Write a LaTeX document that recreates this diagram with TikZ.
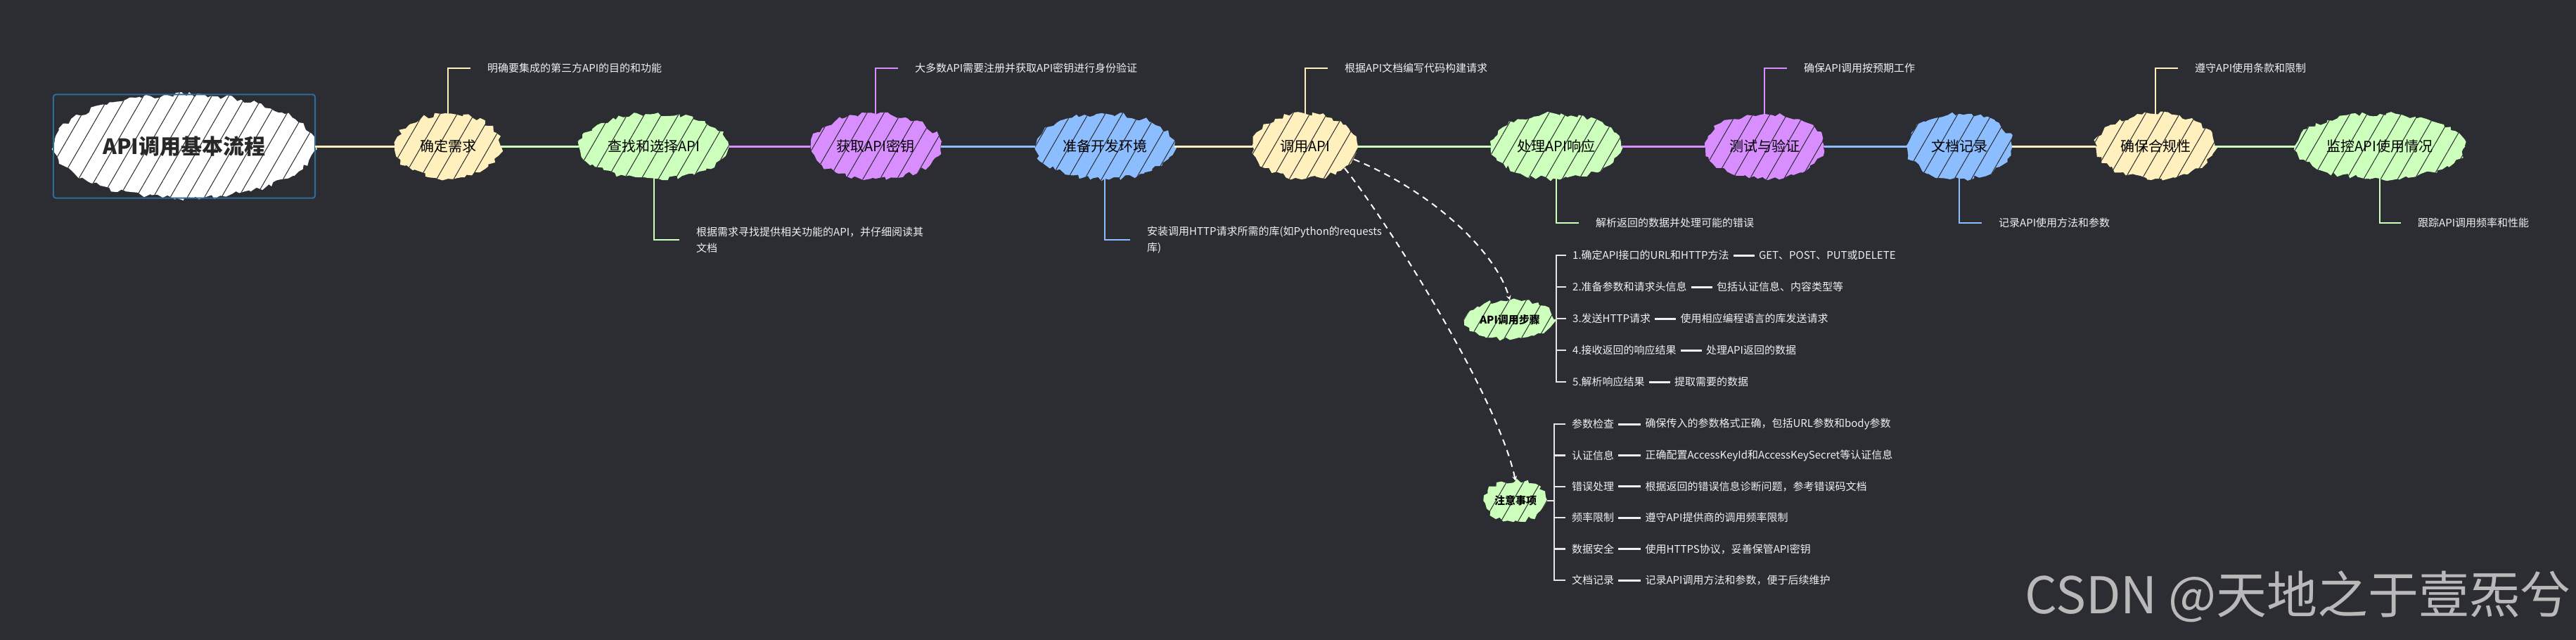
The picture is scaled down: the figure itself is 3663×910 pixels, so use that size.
\documentclass[tikz,border=0pt]{standalone}
\usepackage{fontspec}
\setmainfont{Noto Sans CJK SC}
\usepackage{tikz}
\usetikzlibrary{positioning,shapes,arrows,decorations.pathmorphing,patterns.meta,fit,calc}
\definecolor{bgdark}{RGB}{43,45,50}
\definecolor{cyellow}{RGB}{255,240,190}
\definecolor{cgreen}{RGB}{204,255,187}
\definecolor{cpurple}{RGB}{217,142,255}
\definecolor{cblue}{RGB}{140,190,255}
\definecolor{frameblue}{RGB}{46,110,150}
\definecolor{notewhite}{RGB}{240,240,240}
\definecolor{markgray}{RGB}{185,185,185}
\tikzstyle{rough} = [decorate, decoration={random steps, segment length=6pt, amplitude=3.5pt}, postaction={pattern={Lines[angle=60,distance=21pt,line width=1pt]}, pattern color=bgdark}]
\tikzstyle{stepnode} = [ellipse, rough, minimum width=150pt, minimum height=92pt, inner xsep=10pt, font=\fontsize{20}{24}\selectfont, text=black]
\tikzstyle{rootnode} = [ellipse, rough, fill=white, minimum width=372pt, minimum height=147pt, inner sep=0pt, font=\bfseries\fontsize{30}{36}\selectfont, text={rgb,255:red,40;green,40;blue,40}]
\tikzstyle{rootframe} = [rectangle, draw=frameblue, rounded corners=4pt, line width=2pt, inner sep=0pt]
\tikzstyle{note} = [inner sep=0pt, anchor=west, align=left, text=notewhite, font=\fontsize{15}{23}\selectfont]
\tikzstyle{callout} = [line width=2pt, shorten >=24pt]
\tikzstyle{mainline} = [line width=3pt]
\tikzstyle{subnode} = [ellipse, rough, fill=cgreen, minimum height=56pt, inner xsep=2pt, font=\bfseries\fontsize{15}{18}\selectfont, text=black]
\tikzstyle{item} = [inner sep=0pt, anchor=west, text=notewhite, font=\fontsize{15}{18}\selectfont]
\tikzstyle{bracket} = [line width=2.5pt, draw=notewhite!90!gray]
\tikzstyle{link} = [line width=3pt, draw=notewhite, shorten <=6pt, shorten >=6pt]
\tikzstyle{arrow} = [line width=2pt, draw=white, dash pattern=on 9pt off 7pt, ->, >=stealth]
\tikzstyle{watermark} = [inner sep=0pt, anchor=east, text=markgray, font=\fontsize{72}{80}\selectfont]
\pgfmathsetseed{7}

\begin{document}
\begin{tikzpicture}[x=1pt, y=-1pt, node distance=300pt]
    \useasboundingbox (0,0) rectangle (3663,910);
    \fill[bgdark] (0,0) rectangle (3663,910);

    \node (title) [rootnode] at (262,208) {API调用基本流程};
    \node (frame) [rootframe, fit=(title)] {};

    \node (n1) [stepnode, fill=cyellow] at (637,208) {确定需求};
    \node (t1) [note] at ($(n1.center)+(56,-111)$) {明确要集成的第三方API的目的和功能};
    \draw [callout, draw=cyellow] (n1.north) |- (t1.west);
    \node (n2) [stepnode, fill=cgreen, right of=n1, node distance=293pt] {查找和选择API};
    \node (t2) [note] at ($(n2.center)+(60,133)$) {根据需求寻找提供相关功能的API，并仔细阅读其\\文档};
    \draw [callout, draw=cgreen] (n2.south) |- (t2.west);
    \node (n3) [stepnode, fill=cpurple, right of=n2, node distance=315pt] {获取API密钥};
    \node (t3) [note] at ($(n3.center)+(56,-111)$) {大多数API需要注册并获取API密钥进行身份验证};
    \draw [callout, draw=cpurple] (n3.north) |- (t3.west);
    \node (n4) [stepnode, fill=cblue, right of=n3, node distance=326pt] {准备开发环境};
    \node (t4) [note] at ($(n4.center)+(60,133)$) {安装调用HTTP请求所需的库(如Python的requests\\库)};
    \draw [callout, draw=cblue] (n4.south) |- (t4.west);
    \node (n5) [stepnode, fill=cyellow, right of=n4, node distance=285pt] {调用API};
    \node (t5) [note] at ($(n5.center)+(56,-111)$) {根据API文档编写代码构建请求};
    \draw [callout, draw=cyellow] (n5.north) |- (t5.west);
    \node (n6) [stepnode, fill=cgreen, right of=n5, node distance=357pt] {处理API响应};
    \node (t6) [note] at ($(n6.center)+(56,109)$) {解析返回的数据并处理可能的错误};
    \draw [callout, draw=cgreen] (n6.south) |- (t6.west);
    \node (n7) [stepnode, fill=cpurple, right of=n6, node distance=296pt] {测试与验证};
    \node (t7) [note] at ($(n7.center)+(56,-111)$) {确保API调用按预期工作};
    \draw [callout, draw=cpurple] (n7.north) |- (t7.west);
    \node (n8) [stepnode, fill=cblue, right of=n7, node distance=277pt] {文档记录};
    \node (t8) [note] at ($(n8.center)+(56,109)$) {记录API使用方法和参数};
    \draw [callout, draw=cblue] (n8.south) |- (t8.west);
    \node (n9) [stepnode, fill=cyellow, right of=n8, node distance=279pt] {确保合规性};
    \node (t9) [note] at ($(n9.center)+(56,-111)$) {遵守API使用条款和限制};
    \draw [callout, draw=cyellow] (n9.north) |- (t9.west);
    \node (n10) [stepnode, fill=cgreen, right of=n9, node distance=319pt] {监控API使用情况};
    \node (t10) [note] at ($(n10.center)+(54,109)$) {跟踪API调用频率和性能};
    \draw [callout, draw=cgreen] (n10.south) |- (t10.west);

    \foreach \a/\b/\c in {title/n1/cyellow, n1/n2/cgreen, n2/n3/cpurple, n3/n4/cblue, n4/n5/cyellow, n5/n6/cgreen, n6/n7/cpurple, n7/n8/cblue, n8/n9/cyellow, n9/n10/cgreen}
        \draw [mainline, draw=\c] (\a) -- (\b);

    \node (s1) [subnode] at (2147,455) {API调用步骤};
    \draw [arrow] (n5.-15) .. controls +(110,45) and +(-20,-70) .. (s1.north);
    \foreach \lab/\desc [count=\i] in {1.确定API接口的URL和HTTP方法/GET、POST、PUT或DELETE, 2.准备参数和请求头信息/包括认证信息、内容类型等, 3.发送HTTP请求/使用相应编程语言的库发送请求, 4.接收返回的响应结果/处理API返回的数据, 5.解析响应结果/提取需要的数据} {
        \node (a\i) [item] at ($(s1.center)+(89,{45*\i-137})$) {\lab};
        \node (ad\i) [item, right=42pt of a\i] {\desc};
        \draw [bracket] (s1.east) -| ([xshift=-23pt]a\i.west) -- ([xshift=-9pt]a\i.west);
        \draw [link] (a\i) -- (ad\i);
    }

    \node (s2) [subnode] at (2155,712) {注意事项};
    \draw [arrow] (n5.-29) .. controls +(60,75) and +(-25,-120) .. (s2.north);
    \foreach \lab/\desc [count=\i] in {参数检查/确保传入的参数格式正确，包括URL参数和body参数, 认证信息/正确配置AccessKeyId和AccessKeySecret等认证信息, 错误处理/根据返回的错误信息诊断问题，参考错误码文档, 频率限制/遵守API提供商的调用频率限制, 数据安全/使用HTTPS协议，妥善保管API密钥, 文档记录/记录API调用方法和参数，便于后续维护} {
        \node (b\i) [item] at ($(s2.center)+(80,{44.4*\i-153.4})$) {\lab};
        \node (bd\i) [item, right=44pt of b\i] {\desc};
        \draw [bracket] (s2.east) -| ([xshift=-25pt]b\i.west) -- ([xshift=-9pt]b\i.west);
        \draw [link] (b\i) -- (bd\i);
    }

    \node (mark) [watermark] at (3656,848) {CSDN @天地之于壹炁兮};
\end{tikzpicture}
\end{document}
